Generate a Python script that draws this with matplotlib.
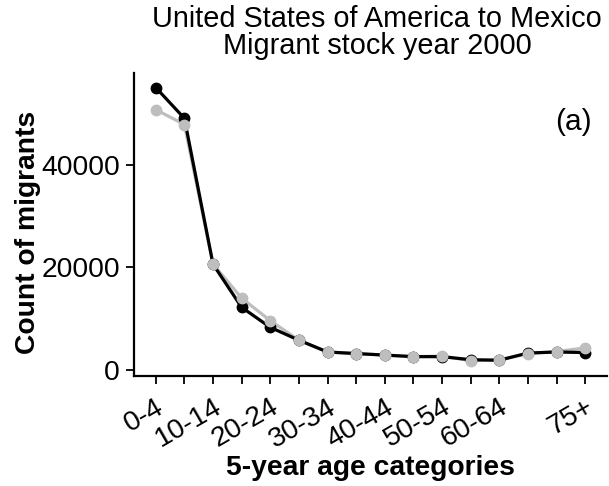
import matplotlib
matplotlib.use("Agg")
import matplotlib.pyplot as plt
import numpy as np

plt.rcParams['font.family'] = ['Liberation Sans', 'DejaVu Sans']

categories = ["0-4", "5-9", "10-14", "15-19", "20-24", "25-29", "30-34", "35-39",
              "40-44", "45-49", "50-54", "55-59", "60-64", "65-69", "70-74", "75+"]
shown_labels = ["0-4", "", "10-14", "", "20-24", "", "30-34", "", "40-44", "",
                "50-54", "", "60-64", "", "", "75+"]
black_values = [55000, 49000, 20600, 12200, 8300, 5800, 3500, 3200, 2900, 2600,
                2600, 2000, 1900, 3300, 3500, 3400]
gray_values = [50700, 47800, 20600, 14000, 9600, 5800, 3500, 3200, 2900, 2600,
               2700, 1800, 2000, 3200, 3600, 4300]
yticks = [0, 20000, 40000]

W, H = 609, 486
fig = plt.figure(figsize=(W/100, H/100), dpi=100)
ax = fig.add_axes([134/W, 1-376/H, (607-134)/W, (376-73)/H])

x = np.arange(1, len(categories)+1)
ax.plot(x, gray_values, color='#BEBEBE', lw=2.3, zorder=2, solid_capstyle='round')
ax.plot(x, black_values, color='black', lw=2.3, zorder=3, marker='o', ms=7.5,
        solid_capstyle='round')
ax.plot(x, gray_values, color='#BEBEBE', lw=0, zorder=4, marker='o', ms=7.5)

ax.set_xlim(1-0.76, 16+0.76)
ax.set_ylim(-1170, 57830)

for s in ['top', 'right']:
    ax.spines[s].set_visible(False)
for s in ['left', 'bottom']:
    ax.spines[s].set_linewidth(1.6)

fs = 20.3
ax.set_yticks(yticks)
ax.set_yticklabels([str(v) for v in yticks], fontsize=fs)
ax.set_xticks(x)
ax.set_xticklabels(shown_labels, fontsize=fs, rotation=30, ha='right', va='top',
                   rotation_mode='anchor')
ax.tick_params(axis='both', direction='out', length=6, width=1.3, color='black')
ax.tick_params(axis='y', pad=4)
ax.tick_params(axis='x', pad=7)

fig.text(28/W, 1-232/H, "Count of migrants", fontsize=fs, fontweight='bold',
         rotation=90, ha='center', va='center')
fig.text(370/W, 1-468/H, "5-year age categories", fontsize=fs, fontweight='bold',
         ha='center', va='center')

fig.text(377/W, 1-19/H, "United States of America to Mexico", fontsize=20.8,
         ha='center', va='center')
fig.text(377/W, 1-46/H, "Migrant stock year 2000", fontsize=20.8,
         ha='center', va='center')
fig.text(573/W, 1-122/H, "(a)", fontsize=21.5, ha='center', va='center')

fig.savefig("out.png", dpi=100)
